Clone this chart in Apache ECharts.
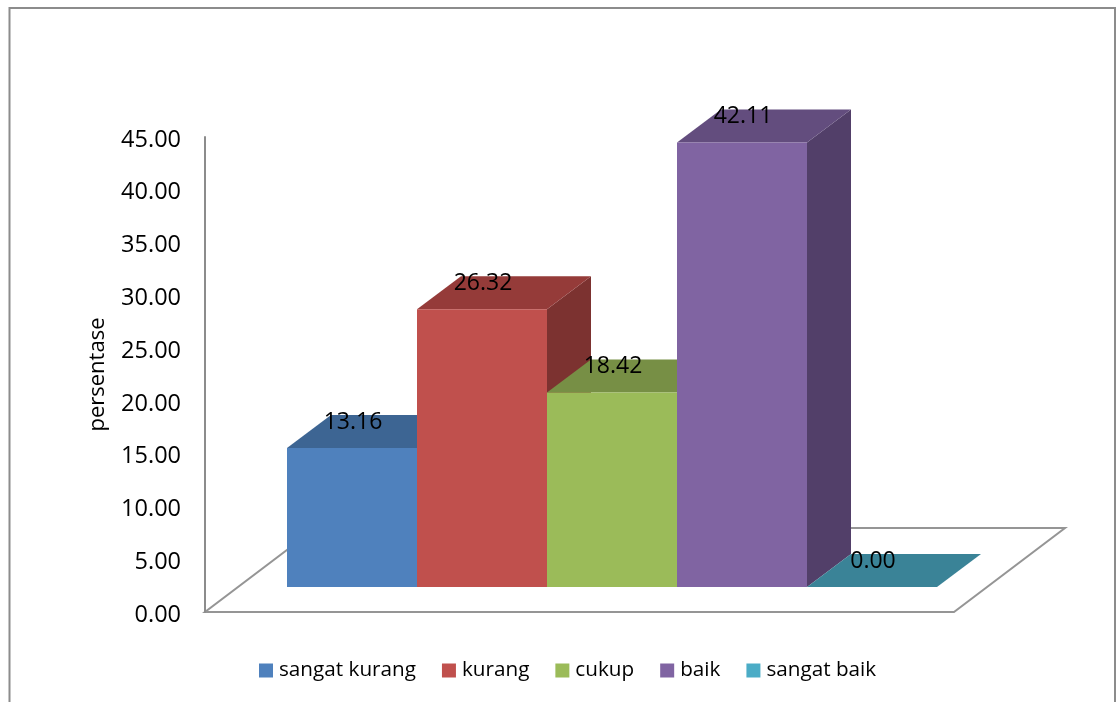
<!DOCTYPE html>
<html><head><meta charset="utf-8">
<style>html,body{margin:0;padding:0;background:#fff}#c{width:1117px;height:702px}</style>
<script src="https://cdn.jsdelivr.net/npm/echarts@6/dist/echarts.min.js"></script>
</head><body><div id="c"></div>
<script>
const categories = ['sangat kurang','kurang','cukup','baik','sangat baik'];
const values = [13.16,26.32,18.42,42.11,0.00];
const yTicks = {min:0,max:45,interval:5};
const yName = 'persentase';
const frontColors = ['#4f81bd','#c0504d','#9bbb59','#8064a2','#4bacc6'];
const topColors = ['#3d6593','#953b39','#778f45','#634d7e','#3a8397'];
const sideColors = ['#335479','#7c3230','#627539','#523f69','#30697c'];
const legendFont = 'Open Sans';
const tickFont = 'Open Sans';
const DX = 44, DY = 33;
const chart = echarts.init(document.getElementById('c'),null,{renderer:'canvas'});
function cuboid(i){
  return function(params,api){
    const p = api.coord([api.value(0),api.value(1)]);
    const base = api.coord([api.value(0),0]);
    const w = api.size([1,0])[0];
    const l = p[0]-w/2, r = p[0]+w/2, t = p[1], b = base[1];
    const children = [];
    if(b-t>0.5){
      children.push({type:'polygon',shape:{points:[[r,b],[r+DX,b-DY],[r+DX,t-DY],[r,t]]},style:{fill:sideColors[i]}});
    }
    children.push({type:'polygon',shape:{points:[[l,t],[l+DX,t-DY],[r+DX,t-DY],[r,t]]},style:{fill:topColors[i]}});
    if(b-t>0.5){
      children.push({type:'rect',shape:{x:l,y:t,width:w,height:b-t},style:{fill:frontColors[i]}});
    }
    children.push({type:'text',style:{x:p[0]+1,y:t-26,text:values[i].toFixed(2),fill:'#000',font:'23px "'+tickFont+'"',align:'center',verticalAlign:'middle'}});
    return {type:'group',children};
  };
}
chart.setOption({
  animation:false,
  backgroundColor:'#fff',
  grid:[
    {left:205,top:137,width:749,height:475},
    {left:287,top:112,width:650,height:475}
  ],
  xAxis:[
    {type:'category',gridIndex:0,data:categories,show:false},
    {type:'category',gridIndex:1,data:categories,show:false}
  ],
  yAxis:[
    {type:'value',gridIndex:0,min:yTicks.min,max:yTicks.max,interval:yTicks.interval,
     axisLine:{show:true,lineStyle:{color:'#8c8c8c',width:2}},axisTick:{show:false},splitLine:{show:false},
     axisLabel:{color:'#000',fontFamily:tickFont,fontSize:23.5,margin:24,verticalAlign:'top',lineHeight:6,formatter:v=>v.toFixed(2)},
     name:yName,nameLocation:'middle',nameGap:96,nameRotate:90,
     nameTextStyle:{color:'#000',fontFamily:legendFont,fontSize:22}},
    {type:'value',gridIndex:1,min:yTicks.min,max:yTicks.max,interval:yTicks.interval,show:false}
  ],
  legend:{
    left:254,top:655,icon:'rect',itemWidth:14,itemHeight:14,itemGap:26,
    textStyle:{color:'#000',fontFamily:legendFont,fontSize:20.7,padding:[0,0,0,1]},
    data:categories.map((n,i)=>({name:n,icon:'rect',itemStyle:{color:frontColors[i]}})),
    selectedMode:false
  },
  graphic:[
    {type:'polygon',z:0,silent:true,shape:{points:[[205,612],[954,612],[1065,528],[316,528]]},style:{fill:'#fff',stroke:'#959595',lineWidth:2}},
    {type:'polyline',z:0,silent:true,shape:{points:[[9.5,702],[9.5,8],[1115,8],[1115,702]]},style:{fill:'none',stroke:'#8c8c8c',lineWidth:2}}
  ],
  series:categories.map((n,i)=>({
    name:n,type:'custom',xAxisIndex:1,yAxisIndex:1,clip:false,
    itemStyle:{color:frontColors[i]},
    encode:{x:0,y:1},
    data:[[n,values[i]]],
    renderItem:cuboid(i)
  }))
});
</script></body></html>
